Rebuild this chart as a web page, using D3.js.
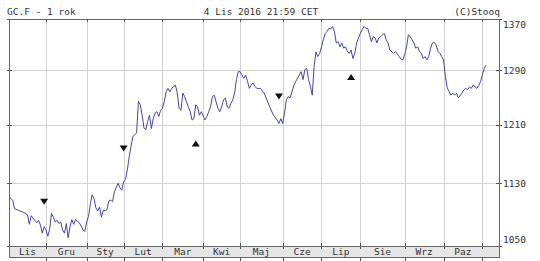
<!DOCTYPE html>
<html>
<head>
<meta charset="utf-8">
<script src="https://cdn.jsdelivr.net/npm/d3@7"></script>
<style>
  html, body { margin: 0; padding: 0; background: #fff; }
  svg { display: block; }
  text { font-family: "DejaVu Sans Mono", monospace; font-size: 9.5px; fill: #333; }
</style>
</head>
<body>
<svg id="chart" width="540" height="261"></svg>
<script>
// ---- data (trading-session index, close) ----
const sessions = [0,2,3,5,8,10,11,12,14,15,16,17,18,19,20,21,22,23,24,25,26,27,28,29,30,31,32,33,34,35,36,38,39,40,41,42,43,44,45,46,47,48,49,50,51,52,53,54,55,56,57,59,60,61,62,63,64,65,66,67,68,69,70,71,72,73,74,75,76,77,78,79,80,81,82,83,84,85,86,87,88,90,91,92,93,94,95,96,97,98,99,100,101,102,103,104,106,107,109,110,111,112,113,114,115,116,117,118,119,120,121,122,123,124,125,126,127,128,129,130,131,132,133,134,136,138,141,143,145,146,147,148,149,150,151,152,153,154,155,156,157,158,159,160,161,162,163,164,165,166,167,168,169,170,171,172,173,174,175,176,177,178,179,180,181,182,183,184,185,186,187,188,189,190,191,192,193,194,195,196,197,198,199,200,201,202,203,204,205,206,208,209,211,212,213,214,215,216,217,218,219,220,221,222,223,224,225,226,227,228,229,230,231,232,233,234,235,236,237,238,239,240,241,242,243,245,246,247,248,249,250,251,253,254,255,256,257,258];
const prices = [1112,1108,1097,1095,1092,1089,1077,1088,1082,1079,1082,1076,1066,1074,1070,1062,1071,1091,1086,1080,1082,1078,1080,1070,1066,1078,1060,1074,1083,1077,1083,1079,1075,1070,1068,1080,1087,1103,1115,1110,1098,1094,1099,1086,1095,1094,1096,1107,1108,1106,1119,1130,1124,1121,1132,1135,1148,1166,1180,1194,1196,1199,1244,1239,1224,1206,1203,1215,1224,1205,1219,1227,1229,1222,1231,1234,1244,1258,1263,1258,1263,1268,1256,1234,1231,1256,1251,1243,1236,1229,1217,1219,1239,1236,1224,1229,1217,1222,1236,1251,1253,1243,1234,1229,1236,1246,1249,1236,1234,1241,1246,1256,1276,1288,1288,1283,1278,1283,1273,1263,1268,1271,1266,1263,1263,1256,1236,1224,1217,1212,1219,1212,1227,1246,1251,1249,1258,1267,1273,1278,1283,1288,1276,1291,1293,1276,1266,1253,1296,1318,1311,1316,1326,1337,1347,1350,1355,1354,1358,1350,1332,1334,1326,1332,1324,1326,1319,1316,1321,1308,1316,1332,1340,1347,1353,1358,1355,1355,1345,1334,1342,1340,1332,1340,1342,1345,1347,1337,1332,1321,1316,1319,1311,1307,1306,1314,1326,1345,1342,1337,1332,1324,1326,1319,1316,1308,1311,1306,1311,1324,1332,1333,1329,1319,1316,1311,1306,1281,1264,1258,1253,1256,1253,1256,1249,1256,1261,1263,1261,1265,1263,1268,1263,1267,1273,1283,1293,1298];

const lastSession = 265;
const monthStarts = [20, 42, 62, 83, 105, 125, 148, 169, 190, 214, 235, 256];
const monthLabels = ["Lis","Gru","Sty","Lut","Mar","Kwi","Maj","Cze","Lip","Sie","Wrz","Paz"];
const yTicks = [1050, 1130, 1210, 1290, 1370];

const markerSessions = [19, 62, 101, 146, 185];
const markerPrices   = [1106, 1177, 1184, 1251, 1280];
const markerTypes    = ["down", "down", "up", "down", "up"];

const titleLeft = "GC.F - 1 rok";
const titleCenter = "4 Lis 2016 21:59 CET";
const titleRight = "(C)Stooq";

// ---- layout ----
const L = 9, R = 499, T = 19, B = 246, BAND = 257;
const svg = d3.select("#chart");

const x = d3.scaleLinear().domain([0, lastSession]).range([L, R]);
const y = d3.scaleLog().domain([1050, 1370]).range([B, T]);

const px = v => Math.round(v) + 0.5;

// band under plot
svg.append("rect").attr("x", L).attr("y", B).attr("width", R - L).attr("height", BAND - B)
  .attr("fill", "#e6e6e6");

// grid
const g = svg.append("g").attr("shape-rendering", "crispEdges");
g.selectAll(".vg").data(monthStarts).join("line")
  .attr("x1", d => px(x(d))).attr("x2", d => px(x(d)))
  .attr("y1", T).attr("y2", B).attr("stroke", "#d2d2d2");
g.selectAll(".hg").data(yTicks.slice(1, -1)).join("line")
  .attr("x1", L).attr("x2", R)
  .attr("y1", d => px(y(d))).attr("y2", d => px(y(d))).attr("stroke", "#d2d2d2");

// ticks on month boundaries
const tickCol = "#555";
monthStarts.forEach(m => {
  const xx = px(x(m));
  [[T, T + 3], [B - 3, B + 3], [BAND, BAND + 4]].forEach(([a, b]) => {
    g.append("line").attr("x1", xx).attr("x2", xx).attr("y1", a).attr("y2", b).attr("stroke", tickCol);
  });
});
// right axis ticks
yTicks.forEach(t => {
  const yy = px(y(t));
  g.append("line").attr("x1", R - 3).attr("x2", R + 3).attr("y1", yy).attr("y2", yy).attr("stroke", tickCol);
  g.append("line").attr("x1", L - 2).attr("x2", L + 3).attr("y1", yy).attr("y2", yy).attr("stroke", tickCol);
});

// borders
g.append("rect").attr("x", L + 0.5).attr("y", T + 0.5).attr("width", R - L).attr("height", B - T)
  .attr("fill", "none").attr("stroke", "#666");
g.append("line").attr("x1", L).attr("x2", R + 1).attr("y1", BAND + 0.5).attr("y2", BAND + 0.5).attr("stroke", "#666");
g.append("line").attr("x1", L + 0.5).attr("x2", L + 0.5).attr("y1", B).attr("y2", BAND).attr("stroke", "#666");
g.append("line").attr("x1", R + 0.5).attr("x2", R + 0.5).attr("y1", B).attr("y2", BAND).attr("stroke", "#666");

// price line
const data = sessions.map((s, i) => ({ s, v: prices[i] }));
svg.append("path").datum(data)
  .attr("fill", "none").attr("stroke", "#4646a6").attr("stroke-width", 1)
  .attr("stroke-linejoin", "round")
  .attr("d", d3.line().x(d => x(d.s)).y(d => y(d.v)));

// signal markers
const markers = markerSessions.map((s, i) => ({ s, v: markerPrices[i], t: markerTypes[i] }));
svg.selectAll(".mk").data(markers).join("path")
  .attr("transform", d => `translate(${x(d.s)},${y(d.v)})`)
  .attr("d", d => d.t === "down" ? "M-4,-3L4,-3L0,3Z" : "M-4,3L4,3L0,-3Z")
  .attr("fill", "#111");

// y labels (right)
svg.selectAll(".yl").data(yTicks).join("text")
  .attr("x", R + 4)
  .attr("y", d => Math.max(T + 6, Math.min(B - 6, y(d))))
  .attr("dy", "0.35em")
  .text(d => d);

// month labels
const bounds = [0, ...monthStarts];
svg.selectAll(".ml").data(monthLabels).join("text")
  .attr("x", (d, i) => x((bounds[i] + bounds[i + 1]) / 2))
  .attr("y", 255)
  .attr("text-anchor", "middle")
  .text(d => d);

// header
svg.append("text").attr("x", 7).attr("y", 15).text(titleLeft);
svg.append("text").attr("x", 261).attr("y", 15).attr("text-anchor", "middle").text(titleCenter);
svg.append("text").attr("x", 500).attr("y", 15).attr("text-anchor", "end").text(titleRight);
</script>
</body>
</html>
